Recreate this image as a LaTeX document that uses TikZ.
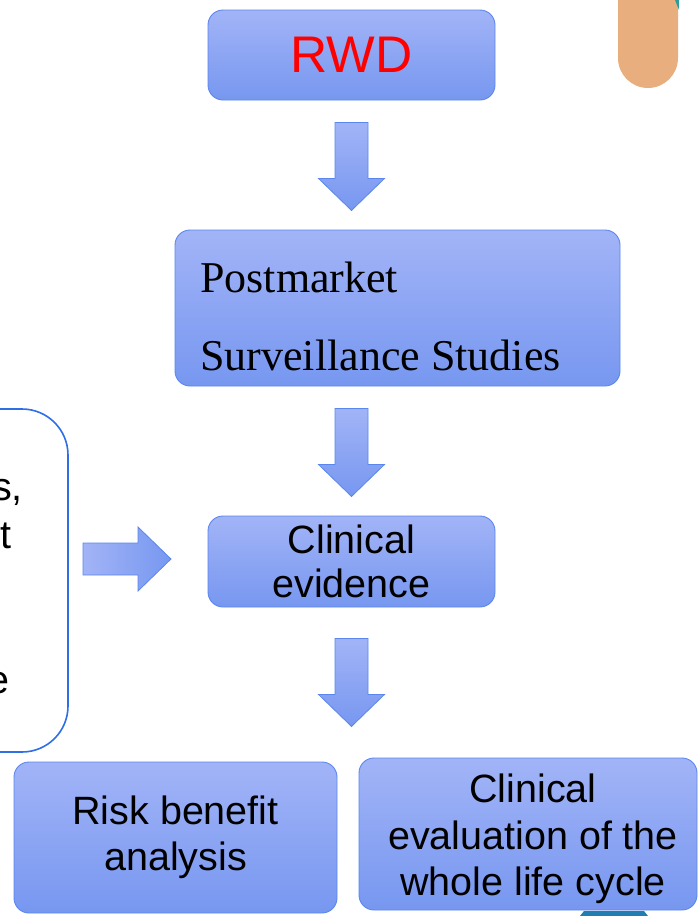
\documentclass[tikz,border=0pt]{standalone}
\usepackage{fontspec}
\setmainfont{Liberation Sans}
\newfontfamily\serifface{Liberation Serif}
\usetikzlibrary{calc}
\definecolor{boxtop}{HTML}{A2B4F7}
\definecolor{boxbot}{HTML}{7797F0}
\definecolor{boxline}{HTML}{5A86EE}
\definecolor{sideline}{HTML}{2E6FE6}
\definecolor{pill}{HTML}{E8AE7E}
\definecolor{teal}{HTML}{2A9C9C}
\tikzset{
  flowbox/.style={draw=boxline, line width=0.9pt, rounded corners=15pt,
    top color=boxtop, bottom color=boxbot, inner sep=0pt, align=center},
  bodytext/.style={font=\fontsize{39.5}{46.5}\selectfont, text=black},
  pics/downarrow/.style={code={
    \path[draw=boxline, line width=0.8pt, top color=boxtop, bottom color=boxbot]
      (-16.5,0) -- (16.5,0) -- (16.5,56) -- (33,56) -- (0,88) -- (-33,56)
      -- (-16.5,56) -- cycle;}},
  pics/rightarrow/.style={code={
    \path[draw=boxline, line width=0.8pt, left color=boxtop, right color=boxbot]
      (0,-16) -- (55,-16) -- (55,-32) -- (88,0) -- (55,32) -- (55,16)
      -- (0,16) -- cycle;}}
}
\begin{document}
\begin{tikzpicture}[x=1pt, y=-1pt]
\useasboundingbox (0,0) rectangle (698,916);
\begin{scope}
\clip (0,0) rectangle (698,916);

% decorative shapes at the page edges
\fill[pill] (618,-40) -- (678,-40) -- (678,58) arc[start angle=0, end angle=180, radius=30] -- cycle;
\fill[teal] (675,0) -- (679,0) -- (679,10) -- cycle;
\fill[teal!80!blue] (580,916) -- (584,911) -- (644,911) -- (648,916) -- cycle;

% boxes
\node[flowbox, minimum width=287pt, minimum height=90pt,
  font=\fontsize{51.5}{56}\selectfont, text=red] (rwd) at (351.5,55) {RWD};
\node[flowbox, minimum width=445pt, minimum height=156pt] (pms) at (397.5,308) {};
\node[anchor=base west, inner sep=0pt, font=\serifface\fontsize{44}{50}\selectfont] (pms1)
  at (200,292) {Postmarket};
\node[anchor=base west, inner sep=0pt, font=\serifface\fontsize{44}{50}\selectfont] (pms2)
  at (200,370) {Surveillance Studies};
\node[flowbox, bodytext, minimum width=287pt, minimum height=91pt] (ce)
  at (351.5,561.5) {Clinical\\[-3pt]evidence};
\node[flowbox, bodytext, minimum width=323pt, minimum height=151pt] (rb)
  at (175.5,837.5) {Risk benefit\\[-1pt]analysis};
\node[flowbox, minimum width=338pt, minimum height=152pt] (cl) at (528,834) {};
\node[bodytext, align=center, inner sep=0pt] (cltext) at (533,839)
  {Clinical\\evaluation of the\\whole life cycle};

% side panel, partly outside the page
\draw[sideline, line width=1.6pt, fill=white, rounded corners=46pt]
  (-300,409) rectangle (68,752);
\coordinate (side) at (68,559);
\node[bodytext, anchor=base east, inner sep=0pt] (s1) at (23,500) {s,};
\node[bodytext, anchor=base east, inner sep=0pt] (s2) at (12,548) {t};
\node[bodytext, anchor=base east, inner sep=0pt] (s3) at (10,693) {e};

% block arrows between the boxes
\pic at ($(rwd.south)+(0,22)$) {downarrow};
\pic at ($(pms.south -| ce.north)+(0,22)$) {downarrow};
\pic at ($(ce.south)+(0,31)$) {downarrow};
\pic at ($(side)+(15,0)$) {rightarrow};
\end{scope}
\end{tikzpicture}
\end{document}
